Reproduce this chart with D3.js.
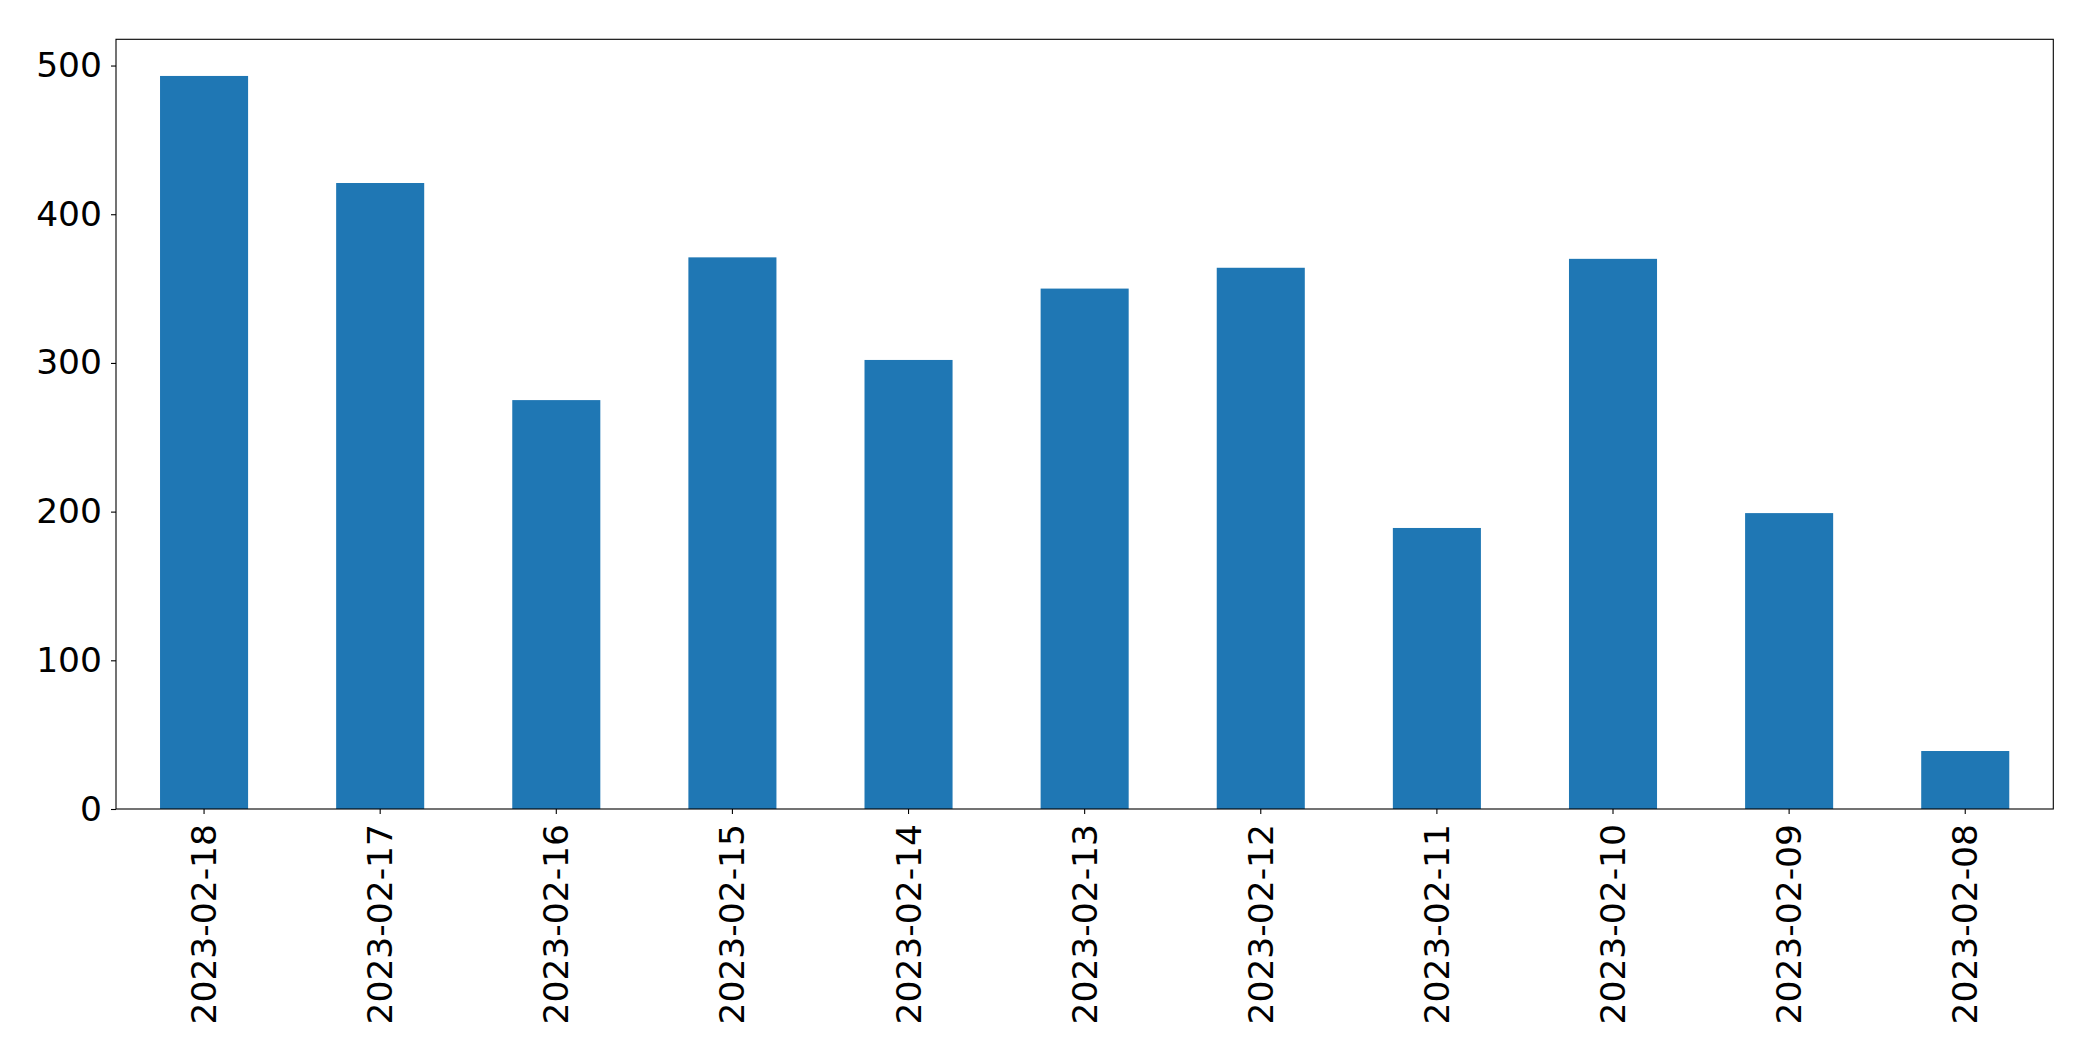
<!DOCTYPE html>
<html>
<head>
<meta charset="utf-8">
<script src="https://cdn.jsdelivr.net/npm/d3@7"></script>
<style>
    body { margin: 0; background: #fff; }
    svg { display: block; }
</style>
</head>
<body>
<div id="chart"></div>
<script>
// values
const dates = ["2023-02-18", "2023-02-17", "2023-02-16", "2023-02-15", "2023-02-14", "2023-02-13",
    "2023-02-12", "2023-02-11", "2023-02-10", "2023-02-09", "2023-02-08"];
const counts = [493, 421, 275, 371, 302, 350, 364, 189, 370, 199, 39];
const yTicks = [0, 100, 200, 300, 400, 500];

const width = 2093, height = 1061;
const margin = {top: 39.3, right: 2093 - 2053.3, bottom: 1061 - 809, left: 116};
const fontSize = "34.5px";

const svg = d3.select("#chart").append("svg")
    .attr("width", width)
    .attr("height", height)
    .attr("viewBox", "0 0 " + width + " " + height);

const x = d3.scaleBand()
    .domain(dates)
    .range([margin.left, width - margin.right])
    .paddingInner(0.5)
    .paddingOuter(0.25);

// matplotlib style 5% headroom
const y = d3.scaleLinear()
    .domain([0, d3.max(counts) * 1.05])
    .range([height - margin.bottom, margin.top]);

svg.append("g")
    .selectAll("rect")
    .data(dates)
    .join("rect")
    .attr("x", d => x(d))
    .attr("y", (d, i) => y(counts[i]))
    .attr("width", x.bandwidth())
    .attr("height", (d, i) => y(0) - y(counts[i]))
    .attr("fill", "#1f77b4");

// frame
svg.append("rect")
    .attr("x", margin.left)
    .attr("y", margin.top)
    .attr("width", width - margin.right - margin.left)
    .attr("height", height - margin.bottom - margin.top)
    .attr("fill", "none")
    .attr("stroke", "#000")
    .attr("stroke-width", 1.1);

const yAxis = svg.append("g")
    .attr("transform", "translate(" + margin.left + ",0)")
    .call(d3.axisLeft(y).tickValues(yTicks).tickSize(5).tickPadding(9).tickFormat(d3.format("d")));

const xAxis = svg.append("g")
    .attr("transform", "translate(0," + (height - margin.bottom) + ")")
    .call(d3.axisBottom(x).tickSize(5).tickSizeOuter(0));

xAxis.selectAll("text")
    .attr("transform", "rotate(-90)")
    .attr("text-anchor", "end")
    .attr("x", -15)
    .attr("y", 0)
    .attr("dy", "0.35em");

for (let ax of [xAxis, yAxis]) {
    ax.select(".domain").remove();
    ax.selectAll("line").attr("stroke", "#000").attr("stroke-width", 1.1);
    ax.selectAll("text")
        .attr("fill", "#000")
        .style("font-family", "'DejaVu Sans', sans-serif")
        .style("font-size", fontSize);
}
</script>
</body>
</html>
